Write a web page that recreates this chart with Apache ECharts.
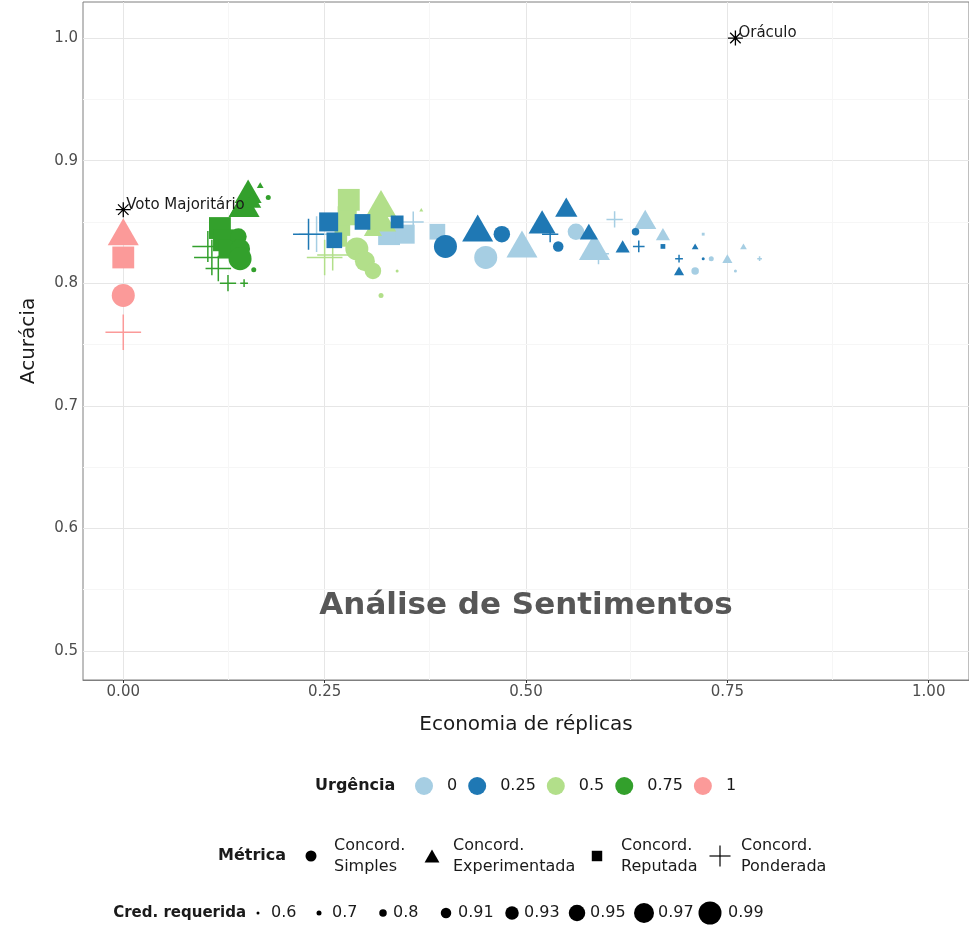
<!DOCTYPE html>
<html>
<head>
<meta charset="utf-8">
<title>Análise de Sentimentos</title>
<script src="https://cdn.jsdelivr.net/npm/echarts@6.0.0/dist/echarts.min.js"></script>
<style>
  html, body { margin: 0; padding: 0; background: #ffffff; overflow: hidden; }
  #chart { width: 969px; height: 930px; }
</style>
</head>
<body>
<div id="chart"></div>
<script>
// Metric codes: S = Concord. Simples, E = Experimentada, R = Reputada, P = Ponderada
const S = 0, E = 1, R = 2, P = 3;

const urgencyLevels = ['0', '0.25', '0.5', '0.75', '1'];
const metricLabels = ['Concord.\nSimples', 'Concord.\nExperimentada', 'Concord.\nReputada', 'Concord.\nPonderada'];
const credLevels = ['0.6', '0.7', '0.8', '0.91', '0.93', '0.95', '0.97', '0.99'];

// Each point: [economia de réplicas, acurácia, métrica, índice da credibilidade requerida]
const urg0Points = [
  [0.24, 0.84, P, 7], [0.33, 0.84, R, 7], [0.35, 0.84, R, 6], [0.39, 0.842, R, 5],
  [0.36, 0.85, P, 4], [0.45, 0.821, S, 7], [0.495, 0.832, E, 7], [0.562, 0.842, S, 5],
  [0.59, 0.824, P, 4], [0.585, 0.83, E, 7], [0.61, 0.852, P, 3], [0.648, 0.852, E, 5],
  [0.67, 0.84, E, 3], [0.72, 0.84, R, 0], [0.71, 0.81, S, 2], [0.73, 0.82, S, 1],
  [0.75, 0.82, E, 2], [0.77, 0.83, E, 1], [0.76, 0.81, S, 0], [0.79, 0.82, P, 0]
];
const urg1Points = [
  [0.23, 0.84, P, 6], [0.255, 0.85, R, 6], [0.262, 0.835, R, 5], [0.297, 0.85, R, 5],
  [0.34, 0.85, R, 4], [0.40, 0.83, S, 7], [0.44, 0.845, E, 7], [0.47, 0.84, S, 5],
  [0.52, 0.85, E, 6], [0.53, 0.84, P, 3], [0.55, 0.862, E, 5], [0.54, 0.83, S, 3],
  [0.578, 0.842, E, 4], [0.62, 0.83, E, 3], [0.64, 0.83, P, 2], [0.636, 0.842, S, 2],
  [0.67, 0.83, R, 1], [0.69, 0.81, E, 2], [0.69, 0.82, P, 1], [0.71, 0.83, E, 1],
  [0.72, 0.82, S, 0]
];
const urg2Points = [
  [0.25, 0.821, P, 7], [0.26, 0.823, P, 6], [0.27, 0.835, R, 4], [0.272, 0.845, R, 5],
  [0.278, 0.855, R, 6], [0.28, 0.868, R, 7], [0.31, 0.845, E, 4], [0.325, 0.85, E, 5],
  [0.315, 0.855, E, 6], [0.32, 0.865, E, 7], [0.29, 0.828, S, 7], [0.30, 0.818, S, 6],
  [0.31, 0.81, S, 5], [0.32, 0.79, S, 1], [0.34, 0.81, S, 0], [0.37, 0.86, E, 0]
];
const urg3Points = [
  [0.105, 0.83, P, 6], [0.11, 0.821, P, 7], [0.118, 0.812, P, 5], [0.13, 0.80, P, 3],
  [0.15, 0.80, P, 1], [0.12, 0.845, R, 7], [0.125, 0.835, R, 7], [0.13, 0.828, R, 6],
  [0.143, 0.838, S, 5], [0.145, 0.828, S, 6], [0.145, 0.82, S, 7], [0.162, 0.811, S, 1],
  [0.145, 0.862, E, 5], [0.15, 0.865, E, 7], [0.155, 0.875, E, 6], [0.16, 0.868, E, 4],
  [0.17, 0.88, E, 1], [0.18, 0.87, S, 1]
];
const urg4Points = [
  [0, 0.842, E, 7], [0, 0.821, R, 7], [0, 0.79, S, 7], [0, 0.76, P, 7]
];

const baselineNames = ['Voto Majoritário', 'Oráculo'];
const baselineEconomy = [0, 0.76];
const baselineAccuracy = [0.86, 1.0];

const xTicks = [0, 0.25, 0.5, 0.75, 1];
const yTicks = [0.5, 0.6, 0.7, 0.8, 0.9, 1.0];
const xMinorTicks = [0.125, 0.375, 0.625, 0.875];
const yMinorTicks = [0.55, 0.65, 0.75, 0.85, 0.95];

// ---- styling ----
const FONT = '"DejaVu Sans", "Liberation Sans", sans-serif';
const palette = ['#A6CEE3', '#1F78B4', '#B2DF8A', '#33A02C', '#FB9A99'];
const credDiameter = [3, 5, 7.5, 10.5, 13.5, 16.5, 20, 23];
const PLUS = 'path://M0,10L20,10M10,0L10,20';
const STAR = 'path://M0,10L20,10M10,0L10,20M3,3L17,17M17,3L3,17';

function symbolFor(m) {
  return ['circle', 'triangle', 'rect', PLUS][m];
}
function sizeFor(m, d) {
  if (m === E) return [d * 1.35, d * 1.17];
  if (m === R) return d * 0.95;
  if (m === P) return d * 1.55;
  return d;
}
function pointItem(p, color) {
  const m = p[2];
  const d = credDiameter[p[3]];
  return {
    value: [p[0], p[1]],
    symbol: symbolFor(m),
    symbolSize: sizeFor(m, d),
    itemStyle: m === P
      ? { color: 'rgba(0,0,0,0)', borderColor: color, borderWidth: 1.5, opacity: 1 }
      : { color: color, borderWidth: 0, opacity: 1 }
  };
}

const groups = [urg0Points, urg1Points, urg2Points, urg3Points, urg4Points];
const drawOrder = [0, 2, 1, 3, 4];
const pointSeries = drawOrder.map(i => ({
  type: 'scatter',
  name: urgencyLevels[i],
  z: 3,
  animation: false,
  itemStyle: { color: palette[i], opacity: 1 },
  emphasis: { disabled: true },
  data: groups[i].map(p => pointItem(p, palette[i]))
}));

// panel grid lines (major + minor)
const gridLineData = []
  .concat(xTicks.map(v => ({ xAxis: v, lineStyle: { color: '#e6e6e6', width: 1, type: 'solid' } })))
  .concat(yTicks.map(v => ({ yAxis: v, lineStyle: { color: '#e6e6e6', width: 1, type: 'solid' } })))
  .concat(xMinorTicks.map(v => ({ xAxis: v, lineStyle: { color: '#f6f6f6', width: 1, type: 'solid' } })))
  .concat(yMinorTicks.map(v => ({ yAxis: v, lineStyle: { color: '#f6f6f6', width: 1, type: 'solid' } })));

const annotationSeries = {
  type: 'scatter',
  name: 'anotação',
  z: 2,
  silent: true,
  animation: false,
  symbolSize: 1,
  itemStyle: { color: 'rgba(0,0,0,0)', opacity: 1 },
  data: [{ name: 'Análise de Sentimentos', value: [0.5, 0.5365] }],
  label: {
    show: true, position: 'inside', formatter: '{b}', opacity: 1,
    fontFamily: FONT, fontSize: 31, fontWeight: 'bold', color: '#575757'
  },
  markLine: {
    silent: true, z: 1, animation: false,
    symbol: ['none', 'none'],
    label: { show: false },
    emphasis: { disabled: true },
    data: gridLineData
  }
};

const baselineSeries = {
  type: 'scatter',
  name: 'referências',
  z: 4,
  animation: false,
  symbol: STAR,
  symbolSize: 15,
  itemStyle: { color: 'rgba(0,0,0,0)', borderColor: '#000', borderWidth: 1.3, opacity: 1 },
  emphasis: { disabled: true },
  label: {
    show: true, position: 'inside', align: 'left', offset: [3, -5], opacity: 1,
    formatter: '{b}', fontFamily: FONT, fontSize: 15, color: '#1a1a1a'
  },
  data: baselineNames.map((n, i) => ({ name: n, value: [baselineEconomy[i], baselineAccuracy[i]] }))
};

// ---- legend rows for Métrica and Cred. requerida ----
const titleFont = 'bold 16px ' + FONT;
const labelFont = '16px ' + FONT;
const graphics = [];
function addText(txt, x, y, font, align) {
  graphics.push({
    type: 'text', x: x, y: y, silent: true,
    style: { text: txt, font: font, fill: '#1a1a1a', align: align || 'left', verticalAlign: 'middle', lineHeight: 21 }
  });
}
addText('Urgência', 315, 786, titleFont);
addText('Métrica', 218, 856, titleFont);
addText('Cred. requerida', 246, 913, 'bold 15px ' + FONT, 'right');

const metricKeyX = [311, 432, 597, 720];
const metricTextX = [334, 453, 621, 741];
const metricRowY = 856;
const keyD = 11;
metricLabels.forEach((lab, m) => {
  const cx = metricKeyX[m], cy = metricRowY;
  if (m === S) {
    graphics.push({ type: 'circle', silent: true, shape: { cx: cx, cy: cy, r: keyD / 2 }, style: { fill: '#000' } });
  } else if (m === E) {
    const w = keyD * 1.35 / 2, h = keyD * 1.17 / 2;
    graphics.push({ type: 'polygon', silent: true, shape: { points: [[cx - w, cy + h], [cx + w, cy + h], [cx, cy - h]] }, style: { fill: '#000' } });
  } else if (m === R) {
    const s = keyD * 0.95;
    graphics.push({ type: 'rect', silent: true, shape: { x: cx - s / 2, y: cy - s / 2, width: s, height: s }, style: { fill: '#000' } });
  } else {
    const a = keyD * 1.55 / 2 + 2;
    graphics.push({ type: 'line', silent: true, shape: { x1: cx - a, y1: cy, x2: cx + a, y2: cy }, style: { stroke: '#000', lineWidth: 1.2 } });
    graphics.push({ type: 'line', silent: true, shape: { x1: cx, y1: cy - a, x2: cx, y2: cy + a }, style: { stroke: '#000', lineWidth: 1.2 } });
  }
  addText(lab, metricTextX[m], metricRowY, labelFont);
});

const credKeyX = [258, 319, 383, 446, 512, 577, 644, 710];
const credTextX = [271, 332, 393, 458, 524, 590, 658, 728];
const credRowY = 913;
credLevels.forEach((lab, c) => {
  graphics.push({ type: 'circle', silent: true, shape: { cx: credKeyX[c], cy: credRowY, r: credDiameter[c] / 2 }, style: { fill: '#000' } });
  addText(lab, credTextX[c], credRowY, labelFont);
});

const chart = echarts.init(document.getElementById('chart'), null, { renderer: 'canvas' });
chart.setOption({
  animation: false,
  backgroundColor: '#ffffff',
  textStyle: { fontFamily: FONT },
  grid: {
    left: 83, right: -2, top: 2, bottom: 250,
    show: true, borderColor: '#7f7f7f', borderWidth: 1, backgroundColor: '#ffffff'
  },
  xAxis: {
    type: 'value', min: -0.05, max: 1.05,
    name: 'Economia de réplicas', nameLocation: 'middle', nameGap: 35,
    nameTextStyle: { fontFamily: FONT, fontSize: 20, color: '#1a1a1a' },
    axisLine: { show: true, lineStyle: { color: '#7f7f7f', width: 1 } },
    axisTick: { show: true, customValues: xTicks, length: 3, lineStyle: { color: '#333' } },
    axisLabel: { customValues: xTicks, formatter: v => v.toFixed(2), fontFamily: FONT, fontSize: 15, color: '#4d4d4d', margin: 5 },
    splitLine: { show: false }
  },
  yAxis: {
    type: 'value', min: 0.4763, max: 1.0294,
    name: 'Acurácia', nameLocation: 'middle', nameGap: 44,
    nameTextStyle: { fontFamily: FONT, fontSize: 20, color: '#1a1a1a' },
    axisLine: { show: true, lineStyle: { color: '#7f7f7f', width: 1 } },
    axisTick: { show: true, customValues: yTicks, length: 3, lineStyle: { color: '#333' } },
    axisLabel: { customValues: yTicks, formatter: v => v.toFixed(1), fontFamily: FONT, fontSize: 15, color: '#4d4d4d', margin: 5 },
    splitLine: { show: false }
  },
  legend: {
    data: urgencyLevels,
    left: 415, top: 777, orient: 'horizontal',
    icon: 'circle', itemWidth: 18, itemHeight: 18, itemGap: 11, padding: 0,
    selectedMode: false,
    itemStyle: { opacity: 1 },
    textStyle: { fontFamily: FONT, fontSize: 16, color: '#1a1a1a', padding: [0, 0, 0, 9] }
  },
  graphic: graphics,
  series: [annotationSeries].concat(pointSeries, [baselineSeries])
});
</script>
</body>
</html>
